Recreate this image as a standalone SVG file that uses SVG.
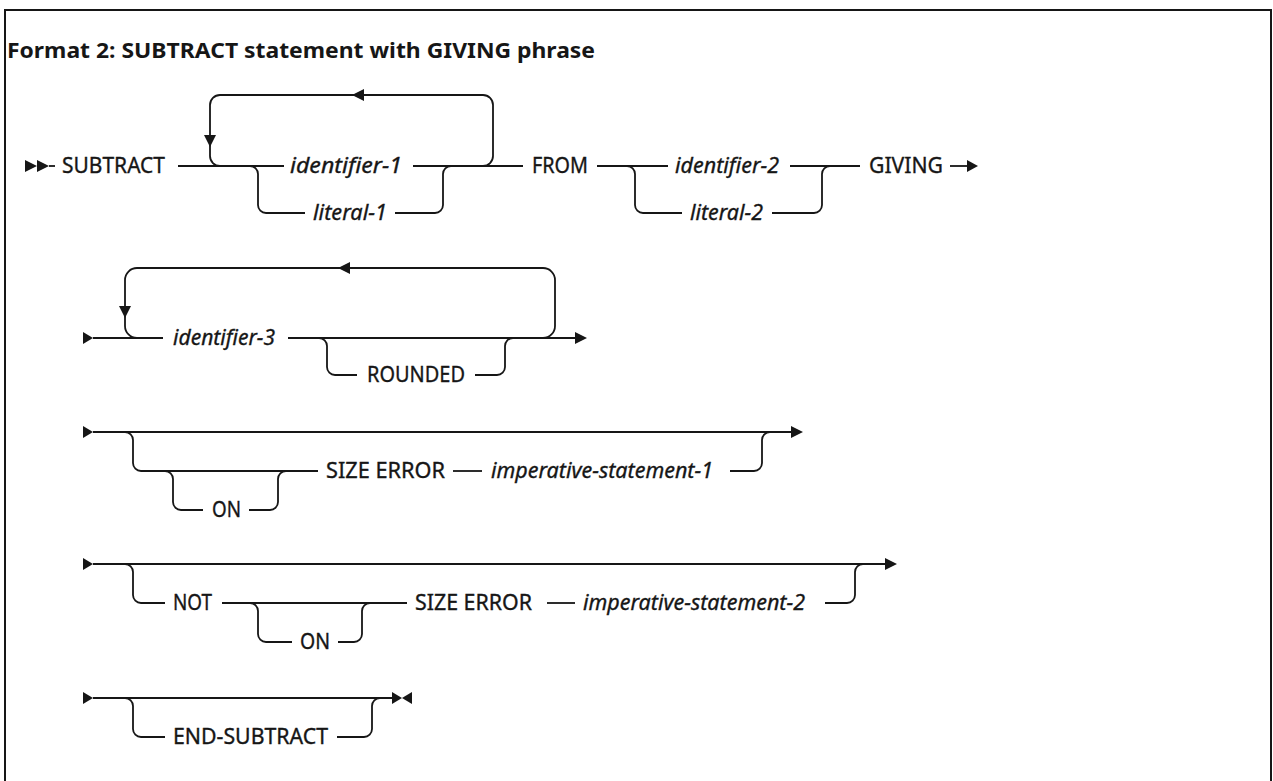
<svg xmlns="http://www.w3.org/2000/svg" width="1273" height="781" viewBox="0 0 1273 781">
<style>
.t{font-family:"Noto Sans","Liberation Sans",sans-serif;font-size:22px;fill:#161616;stroke:#161616;stroke-width:0.35}
.i{font-style:italic}
.h{font-family:"Noto Sans","Liberation Sans",sans-serif;font-size:21px;font-weight:bold;fill:#161616}
.c{fill:none;stroke:#161616;stroke-width:1.8}
.a{fill:#161616;stroke:none}
</style>
<rect x="5" y="10" width="1266" height="800" fill="#fff" stroke="#161616" stroke-width="2"/>
<text class="h" x="7" y="58" textLength="588" lengthAdjust="spacingAndGlyphs">Format 2: SUBTRACT statement with GIVING phrase</text>
<g id="connectors">
<!-- row 1 -->
<polygon class="a" points="25,160 37,166 25,172"/>
<polygon class="a" points="37,160 49,166 37,172"/>
<path class="c" d="M49 166 H55"/>
<path class="c" d="M178 166 H284"/>
<path class="c" d="M413 166 H483 A10 10 0 0 0 493 156 V105 A10 10 0 0 0 483 95 H220 A10 10 0 0 0 210 105 V156 A10 10 0 0 0 220 166"/>
<polygon class="a" points="352,95 364,89 364,101"/>
<polygon class="a" points="204,135 216,135 210,147"/>
<path class="c" d="M413 166 H523"/>
<path class="c" d="M250 166 A8 8 0 0 1 258 174 V205 A8 8 0 0 0 266 213 H305"/>
<path class="c" d="M395 213 H435 A8 8 0 0 0 443 205 V174 A8 8 0 0 1 451 166"/>
<path class="c" d="M597 166 H668"/>
<path class="c" d="M627 166 A8 8 0 0 1 635 174 V205 A8 8 0 0 0 643 213 H682"/>
<path class="c" d="M790 166 H860"/>
<path class="c" d="M772 213 H814 A8 8 0 0 0 822 205 V174 A8 8 0 0 1 830 166"/>
<path class="c" d="M950 166 H968"/>
<polygon class="a" points="967,160 978,166 967,172"/>
<!-- row 2 -->
<polygon class="a" points="83,332 93,338 83,344"/>
<path class="c" d="M93 338 H163"/>
<path class="c" d="M288 338 H543 A12 12 0 0 0 555 326 V280 A12 12 0 0 0 543 268 H137 A12 12 0 0 0 125 280 V326 A12 12 0 0 0 137 338"/>
<polygon class="a" points="338,268 350,262 350,274"/>
<polygon class="a" points="119,306 131,306 125,318"/>
<path class="c" d="M543 338 H577"/>
<polygon class="a" points="575,332 587,338 575,344"/>
<path class="c" d="M319 338 A8 8 0 0 1 327 346 V367 A8 8 0 0 0 335 375 H357"/>
<path class="c" d="M475 375 H497 A8 8 0 0 0 505 367 V346 A8 8 0 0 1 513 338"/>
<!-- row 3 -->
<polygon class="a" points="83,426 93,432 83,438"/>
<path class="c" d="M93 432 H792"/>
<polygon class="a" points="791,426 803,432 791,438"/>
<path class="c" d="M125 432 A8 8 0 0 1 133 440 V463 A8 8 0 0 0 141 471 H318"/>
<path class="c" d="M165 471 A8 8 0 0 1 173 479 V502 A8 8 0 0 0 181 510 H203"/>
<path class="c" d="M249 510 H270 A8 8 0 0 0 278 502 V479 A8 8 0 0 1 286 471"/>
<path class="c" d="M453 471 H482"/>
<path class="c" d="M730 471 H754 A8 8 0 0 0 762 463 V440 A8 8 0 0 1 770 432"/>
<!-- row 4 -->
<polygon class="a" points="83,558 93,564 83,570"/>
<path class="c" d="M93 564 H886"/>
<polygon class="a" points="885,558 897,564 885,570"/>
<path class="c" d="M125 564 A8 8 0 0 1 133 572 V595 A8 8 0 0 0 141 603 H165"/>
<path class="c" d="M222 603 H407"/>
<path class="c" d="M250 603 A8 8 0 0 1 258 611 V634 A8 8 0 0 0 266 642 H292"/>
<path class="c" d="M338 642 H354 A8 8 0 0 0 362 634 V611 A8 8 0 0 1 370 603"/>
<path class="c" d="M547 603 H575"/>
<path class="c" d="M825 603 H847 A8 8 0 0 0 855 595 V572 A8 8 0 0 1 863 564"/>
<!-- row 5 -->
<polygon class="a" points="83,692 93,698 83,704"/>
<path class="c" d="M93 698 H392"/>
<polygon class="a" points="392,692 402,698 392,704"/>
<polygon class="a" points="412,692 402,698 412,704"/>
<path class="c" d="M125 698 A8 8 0 0 1 133 706 V729 A8 8 0 0 0 141 737 H165"/>
<path class="c" d="M337 737 H364 A8 8 0 0 0 372 729 V706 A8 8 0 0 1 380 698"/>
</g>
<g id="subtract"><text class="t" x="62" y="173" textLength="103" lengthAdjust="spacingAndGlyphs">SUBTRACT</text></g>
<g id="identifier-1"><text class="t i" x="290" y="173" textLength="112" lengthAdjust="spacingAndGlyphs">identifier-1</text></g>
<g id="literal-1"><text class="t i" x="313" y="220" textLength="74" lengthAdjust="spacingAndGlyphs">literal-1</text></g>
<g id="from"><text class="t" x="532" y="173" textLength="56" lengthAdjust="spacingAndGlyphs">FROM</text></g>
<g id="identifier-2"><text class="t i" x="675" y="173" textLength="104" lengthAdjust="spacingAndGlyphs">identifier-2</text></g>
<g id="literal-2"><text class="t i" x="690" y="220" textLength="73" lengthAdjust="spacingAndGlyphs">literal-2</text></g>
<g id="giving"><text class="t" x="869" y="173" textLength="74" lengthAdjust="spacingAndGlyphs">GIVING</text></g>
<g id="identifier-3"><text class="t i" x="173" y="345" textLength="102" lengthAdjust="spacingAndGlyphs">identifier-3</text></g>
<g id="rounded"><text class="t" x="367" y="382" textLength="98" lengthAdjust="spacingAndGlyphs">ROUNDED</text></g>
<g id="on-1"><text class="t" x="212" y="517" textLength="29" lengthAdjust="spacingAndGlyphs">ON</text></g>
<g id="size-error-1"><text class="t" x="326" y="478" textLength="119" lengthAdjust="spacingAndGlyphs">SIZE ERROR</text></g>
<g id="imperative-statement-1"><text class="t i" x="491" y="478" textLength="222" lengthAdjust="spacingAndGlyphs">imperative-statement-1</text></g>
<g id="not"><text class="t" x="173" y="610" textLength="39" lengthAdjust="spacingAndGlyphs">NOT</text></g>
<g id="on-2"><text class="t" x="300" y="649" textLength="30" lengthAdjust="spacingAndGlyphs">ON</text></g>
<g id="size-error-2"><text class="t" x="415" y="610" textLength="117" lengthAdjust="spacingAndGlyphs">SIZE ERROR</text></g>
<g id="imperative-statement-2"><text class="t i" x="583" y="610" textLength="222" lengthAdjust="spacingAndGlyphs">imperative-statement-2</text></g>
<g id="end-subtract"><text class="t" x="173" y="744" textLength="155" lengthAdjust="spacingAndGlyphs">END-SUBTRACT</text></g>
</svg>
